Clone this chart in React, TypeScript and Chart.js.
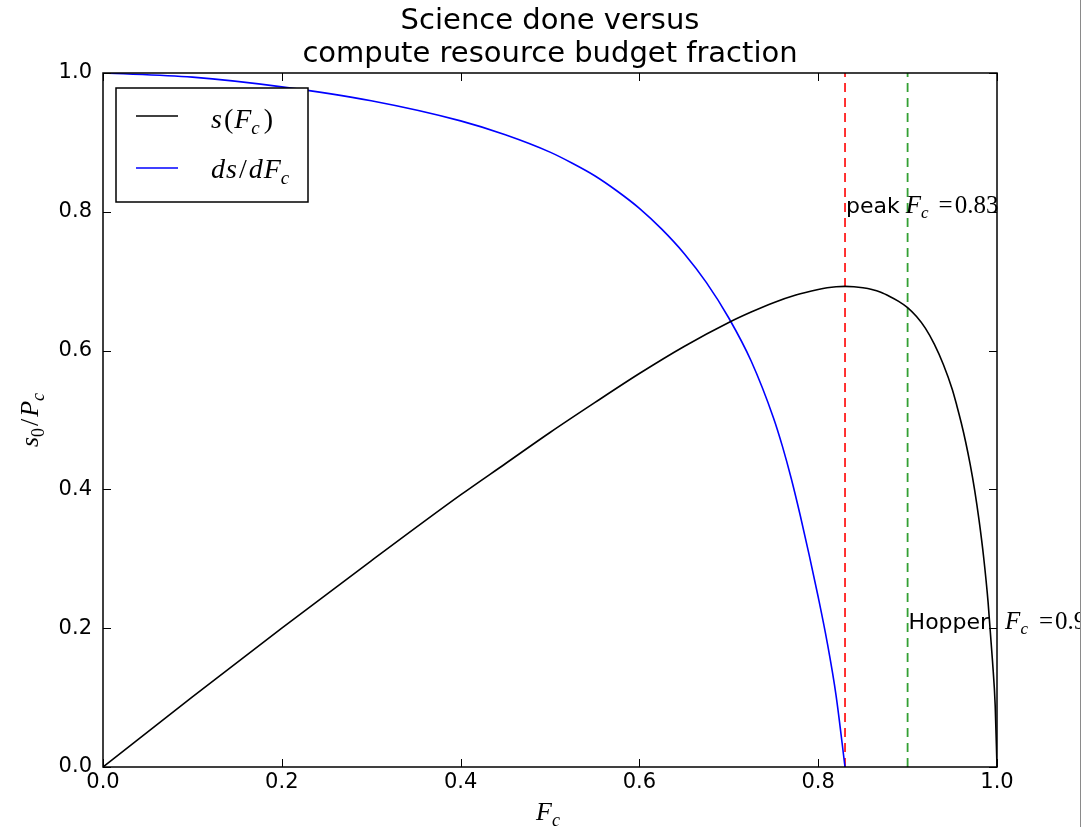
import React, { useEffect, useRef } from "react";
import { Chart, registerables } from "chart.js";

Chart.register(...registerables);

// ---------- data ----------
const titleLines = ["Science done versus", "compute resource budget fraction"];
const xTicks = [0, 0.2, 0.4, 0.6, 0.8, 1.0];
const yTicks = [0, 0.2, 0.4, 0.6, 0.8, 1.0];

// s(F_c)
const sFc = [0, 0.1, 0.2, 0.3, 0.4, 0.45, 0.5, 0.55, 0.6, 0.65, 0.7, 0.725, 0.75, 0.775, 0.8, 0.81, 0.82, 0.83, 0.84, 0.85, 0.86, 0.87, 0.88, 0.89, 0.9, 0.91, 0.92, 0.93, 0.94, 0.95, 0.955, 0.96, 0.965, 0.97, 0.975, 0.98, 0.985, 0.99, 0.995, 0.998, 1.0];
const sVal = [0, 0.101, 0.2, 0.297, 0.392, 0.437, 0.482, 0.525, 0.567, 0.606, 0.6405, 0.6555, 0.669, 0.68, 0.688, 0.6905, 0.692, 0.6925, 0.692, 0.6905, 0.688, 0.684, 0.678, 0.671, 0.662, 0.649, 0.632, 0.609, 0.58, 0.544, 0.521, 0.496, 0.468, 0.436, 0.399, 0.355, 0.303, 0.238, 0.152, 0.088, 0];

// ds/dF_c
const dFc = [0, 0.1, 0.2, 0.3, 0.4, 0.45, 0.5, 0.525, 0.55, 0.575, 0.6, 0.625, 0.65, 0.675, 0.7, 0.725, 0.75, 0.76, 0.77, 0.78, 0.79, 0.8, 0.81, 0.82, 0.83];
const dVal = [1.0, 0.994, 0.98, 0.96, 0.931, 0.911, 0.886, 0.87, 0.852, 0.83, 0.805, 0.775, 0.74, 0.698, 0.647, 0.585, 0.503, 0.462, 0.415, 0.362, 0.305, 0.245, 0.18, 0.103, 0];

const peakF = 0.83;
const hopperF = 0.9;
const peakLabelY = 0.8;
const hopperLabelY = 0.2;

// ---------- helpers ----------
const SANS = '"DejaVu Sans", sans-serif';
const SERIF = '"Liberation Serif", serif';

type Seg = { t: string; font: string; dx?: number; dy?: number };

function segWidth(ctx: CanvasRenderingContext2D, segs: Seg[]) {
  let w = 0;
  for (const s of segs) {
    ctx.font = s.font;
    w += (s.dx || 0) + ctx.measureText(s.t).width;
  }
  return w;
}

function drawSegs(ctx: CanvasRenderingContext2D, segs: Seg[], x: number, y: number) {
  let cx = x;
  ctx.textAlign = "left";
  ctx.textBaseline = "alphabetic";
  for (const s of segs) {
    ctx.font = s.font;
    cx += s.dx || 0;
    ctx.fillText(s.t, cx, y + (s.dy || 0));
    cx += ctx.measureText(s.t).width;
  }
  return cx;
}

const it = (px: number) => `italic ${px}px ${SERIF}`;
const rm = (px: number) => `${px}px ${SERIF}`;

const decorPlugin = {
  id: "decor",
  afterDraw(chart: any) {
    const { ctx, chartArea, scales } = chart;
    const { left, right, top, bottom } = chartArea;
    const xs = scales.x;
    const ys = scales.y;
    ctx.save();
    ctx.fillStyle = "#000";
    ctx.strokeStyle = "#000";

    // ticks (inward, all four sides)
    ctx.lineWidth = 1;
    ctx.beginPath();
    for (const v of xTicks) {
      const px = Math.round(xs.getPixelForValue(v)) + 0.5;
      ctx.moveTo(px, bottom);
      ctx.lineTo(px, bottom - 8);
      ctx.moveTo(px, top);
      ctx.lineTo(px, top + 8);
    }
    for (const v of yTicks) {
      const py = Math.round(ys.getPixelForValue(v)) + 0.5;
      ctx.moveTo(left, py);
      ctx.lineTo(left + 8, py);
      ctx.moveTo(right, py);
      ctx.lineTo(right - 8, py);
    }
    ctx.stroke();

    // frame
    ctx.lineWidth = 1.5;
    ctx.strokeRect(left, top, right - left, bottom - top);

    // title
    ctx.font = `29px ${SANS}`;
    ctx.textAlign = "center";
    ctx.textBaseline = "middle";
    const cx = (left + right) / 2;
    ctx.fillText(titleLines[0], cx, 21);
    ctx.fillText(titleLines[1], cx, 54);

    // legend
    ctx.fillStyle = "#fff";
    ctx.fillRect(116, 88, 192, 114);
    ctx.lineWidth = 1.5;
    ctx.strokeStyle = "#000";
    ctx.strokeRect(116, 88, 192, 114);
    ctx.beginPath();
    ctx.moveTo(136, 116);
    ctx.lineTo(178, 116);
    ctx.stroke();
    ctx.strokeStyle = "#0000ff";
    ctx.beginPath();
    ctx.moveTo(136, 168);
    ctx.lineTo(178, 168);
    ctx.stroke();
    ctx.fillStyle = "#000";
    drawSegs(ctx, [
      { t: "s", font: it(28) },
      { t: "(", font: rm(28), dx: 2 },
      { t: "F", font: it(28), dx: 1 },
      { t: "c", font: it(19), dy: 6 },
      { t: ")", font: rm(28), dx: 4 },
    ], 211, 128);
    drawSegs(ctx, [
      { t: "d", font: it(28) },
      { t: "s", font: it(28), dx: 1 },
      { t: "/", font: rm(28), dx: 2 },
      { t: "d", font: it(28), dx: 2 },
      { t: "F", font: it(28), dx: 1 },
      { t: "c", font: it(19), dy: 6 },
    ], 211, 178);

    // annotations
    const pkx = xs.getPixelForValue(peakF) + 1;
    const pky = ys.getPixelForValue(peakLabelY) + 1;
    ctx.font = `22px ${SANS}`;
    ctx.textAlign = "left";
    ctx.textBaseline = "alphabetic";
    ctx.fillText("peak", pkx, pky);
    let ex = pkx + ctx.measureText("peak").width;
    drawSegs(ctx, [
      { t: "F", font: it(25), dx: 6 },
      { t: "c", font: it(17), dy: 5 },
      { t: "=", font: rm(25), dx: 10 },
      { t: "0.83", font: rm(25), dx: 2 },
    ], ex, pky);

    const hx = xs.getPixelForValue(hopperF) + 1;
    const hy = ys.getPixelForValue(hopperLabelY) + 1;
    ctx.font = `22px ${SANS}`;
    ctx.textAlign = "left";
    ctx.textBaseline = "alphabetic";
    ctx.fillText("Hopper", hx, hy);
    ex = hx + ctx.measureText("Hopper").width;
    drawSegs(ctx, [
      { t: "F", font: it(25), dx: 16 },
      { t: "c", font: it(17), dy: 5 },
      { t: "=", font: rm(25), dx: 11 },
      { t: "0.9", font: rm(25), dx: 2 },
    ], ex, hy);

    // x axis label
    const xl: Seg[] = [
      { t: "F", font: it(26) },
      { t: "c", font: it(18), dy: 6 },
    ];
    const xw = segWidth(ctx, xl);
    drawSegs(ctx, xl, (left + right) / 2 - xw / 2 - 2, 820);

    // y axis label (rotated)
    const yl: Seg[] = [
      { t: "s", font: it(26) },
      { t: "0", font: rm(18), dy: 6 },
      { t: "/", font: rm(26), dx: 2 },
      { t: "P", font: it(26), dx: 2 },
      { t: "c", font: it(18), dy: 6 },
    ];
    const yw = segWidth(ctx, yl);
    ctx.translate(38, (top + bottom) / 2);
    ctx.rotate(-Math.PI / 2);
    drawSegs(ctx, yl, -yw / 2, 0);

    ctx.restore();
  },
};

export default function App() {
  const ref = useRef<HTMLCanvasElement | null>(null);

  useEffect(() => {
    if (!ref.current) return;
    const pts = (xs: number[], ys: number[]) => xs.map((x, i) => ({ x, y: ys[i] }));
    const chart = new Chart(ref.current, {
      type: "line",
      data: {
        datasets: [
          {
            label: "s(F_c)",
            data: pts(sFc, sVal),
            borderColor: "#000000",
            borderWidth: 1.6,
            pointRadius: 0,
            cubicInterpolationMode: "monotone",
          },
          {
            label: "ds/dF_c",
            data: pts(dFc, dVal),
            borderColor: "#0000ff",
            borderWidth: 1.6,
            pointRadius: 0,
            cubicInterpolationMode: "monotone",
          },
          {
            label: "peak",
            data: [{ x: peakF, y: 0 }, { x: peakF, y: 1 }],
            borderColor: "#ff0000",
            borderWidth: 1.6,
            borderDash: [9, 6],
            pointRadius: 0,
          },
          {
            label: "Hopper",
            data: [{ x: hopperF, y: 0 }, { x: hopperF, y: 1 }],
            borderColor: "#33a033",
            borderWidth: 1.8,
            borderDash: [9, 6],
            pointRadius: 0,
          },
        ],
      },
      options: {
        animation: false,
        responsive: false,
        maintainAspectRatio: false,
        layout: { padding: { top: 73, right: 83, left: 0, bottom: 0 } },
        plugins: { legend: { display: false }, title: { display: false }, tooltip: { enabled: false } },
        scales: {
          x: {
            type: "linear",
            min: 0,
            max: 1,
            afterFit: (s: any) => { s.height = 60; },
            afterBuildTicks: (s: any) => { s.ticks = xTicks.map((v) => ({ value: v })); },
            ticks: {
              callback: (v: any) => Number(v).toFixed(1),
              font: { family: "DejaVu Sans", size: 21 },
              color: "#000",
              padding: 3,
              maxRotation: 0,
            },
            grid: { display: false, drawTicks: false },
            border: { display: false },
          },
          y: {
            type: "linear",
            min: 0,
            max: 1,
            afterFit: (s: any) => { s.width = 103; },
            afterBuildTicks: (s: any) => { s.ticks = yTicks.map((v) => ({ value: v })); },
            ticks: {
              callback: (v: any) => Number(v).toFixed(1),
              font: { family: "DejaVu Sans", size: 21 },
              color: "#000",
              padding: 11,
            },
            grid: { display: false, drawTicks: false },
            border: { display: false },
          },
        },
      },
      plugins: [decorPlugin],
    } as any);
    return () => chart.destroy();
  }, []);

  return (
    <div style={{ position: "fixed", left: 0, top: 0, width: 1082, height: 827, background: "#fff", overflow: "hidden" }}>
      <canvas ref={ref} width={1080} height={827} style={{ display: "block", width: 1080, height: 827 }} />
      <div style={{ position: "absolute", left: 1080, top: 0, width: 1, height: 827, background: "#8a8a8a" }} />
    </div>
  );
}
